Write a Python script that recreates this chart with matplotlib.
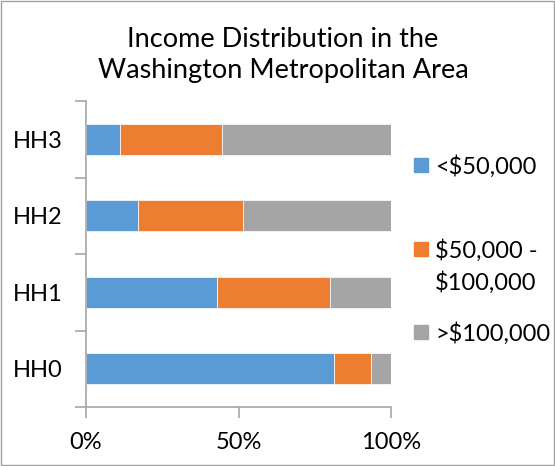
import matplotlib.pyplot as plt
import numpy as np

plt.rcParams['font.family'] = ['Lato', 'DejaVu Sans']

# data (percent of households)
households = ['HH0', 'HH1', 'HH2', 'HH3']
under_50k = [81.3, 42.9, 16.9, 11.3]
mid_50_100k = [12.1, 37.1, 34.6, 33.3]
over_100k = [6.6, 20.0, 48.5, 55.4]
series_names = ['<$50,000', '$50,000 -\n$100,000', '>$100,000']
colors = ['#5B9BD5', '#ED7D31', '#A5A5A5']

W, H = 555, 466
fig = plt.figure(figsize=(W / 100, H / 100), dpi=100)
ax = fig.add_axes([86 / W, 1 - 407 / H, 305 / W, 306 / H])

index = np.arange(len(households))
left = np.zeros(len(households))
for vals, name, c in zip([under_50k, mid_50_100k, over_100k], series_names, colors):
    ax.barh(index, vals, 0.4, left=left, color=c, label=name,
            edgecolor='white', linewidth=0.5)
    left = left + np.array(vals)

axis_gray = '#A6A6A6'
ax.set_xlim(0, 100)
ax.set_ylim(-0.5, 3.5)
ax.set_xticks([0, 50, 100])
ax.set_xticklabels(['0%', '50%', '100%'], fontsize=17)
ax.set_yticks(index)
ax.set_yticklabels(households, fontsize=17)
ax.set_yticks(np.arange(-0.5, 4, 1), minor=True)
ax.tick_params(axis='y', which='major', length=0, pad=17)
ax.tick_params(axis='y', which='minor', length=8, color=axis_gray, width=1.2)
ax.tick_params(axis='x', length=8, color=axis_gray, width=1.2, pad=10)
for s in ['top', 'right']:
    ax.spines[s].set_visible(False)
for s in ['left', 'bottom']:
    ax.spines[s].set_color(axis_gray)
    ax.spines[s].set_linewidth(1.2)

fig.suptitle('Income Distribution in the\nWashington Metropolitan Area',
             fontsize=19.5, x=0.51, y=1 - 27 / H, linespacing=1.3)

# legend: square marker aligned with the first line of each label
legend_y = [165, 249, 332]
for name, c, yp in zip(series_names, colors, legend_y):
    fig.patches.append(plt.Rectangle((414 / W, 1 - (yp + 7) / H), 14 / W, 14 / H,
                                     transform=fig.transFigure, color=c))
    first, *rest = name.split('\n')
    fig.text(435 / W, 1 - yp / H, first, fontsize=17, va='center_baseline')
    for i, line in enumerate(rest, 1):
        fig.text(435 / W, 1 - (yp + 32 * i) / H, line, fontsize=17, va='center_baseline')

# figure border
fig.patches.append(plt.Rectangle((0.002, 0.002), 0.996, 0.996, transform=fig.transFigure,
                                 fill=False, edgecolor='#A0A0A0', linewidth=1))

fig.savefig('out.png', dpi=100)
